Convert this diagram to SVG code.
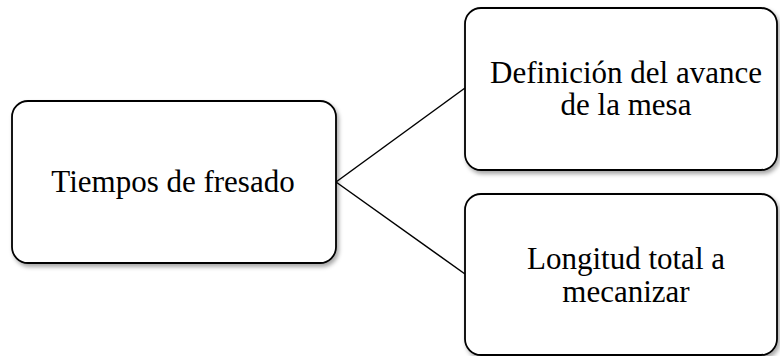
<svg xmlns="http://www.w3.org/2000/svg" width="780" height="356" viewBox="0 0 780 356">
  <defs>
    <filter id="shadow" x="-5%" y="-5%" width="115%" height="120%">
      <feDropShadow dx="2" dy="3" stdDeviation="2" flood-color="#000" flood-opacity="0.35"/>
    </filter>
  </defs>
  <style>
    .box { fill: #ffffff; stroke: #000000; stroke-width: 1.8; filter: url(#shadow); }
    .lbl { font-family: "Liberation Serif", "Times New Roman", serif; font-size: 31px; fill: #000000; text-anchor: middle; }
    .conn { stroke: #000000; stroke-width: 1.5; fill: none; }
  </style>
  <rect width="780" height="356" fill="#ffffff"/>
  <g id="connectors">
    <line class="conn" x1="336" y1="182" x2="465" y2="88"/>
    <line class="conn" x1="336" y1="182" x2="465" y2="274"/>
  </g>
  <g id="node-tiempos">
    <rect class="box" x="12" y="101" width="324" height="162" rx="16" ry="16"/>
    <text class="lbl" x="173" y="192">Tiempos de fresado</text>
  </g>
  <g id="node-definicion">
    <rect class="box" x="465" y="8" width="312" height="162" rx="16" ry="16"/>
    <text class="lbl" x="626" y="83">Definición del avance</text>
    <text class="lbl" x="626" y="115">de la mesa</text>
  </g>
  <g id="node-longitud">
    <rect class="box" x="465" y="194" width="312" height="161" rx="16" ry="16"/>
    <text class="lbl" x="626" y="269">Longitud total a</text>
    <text class="lbl" x="626" y="302">mecanizar</text>
  </g>
</svg>
